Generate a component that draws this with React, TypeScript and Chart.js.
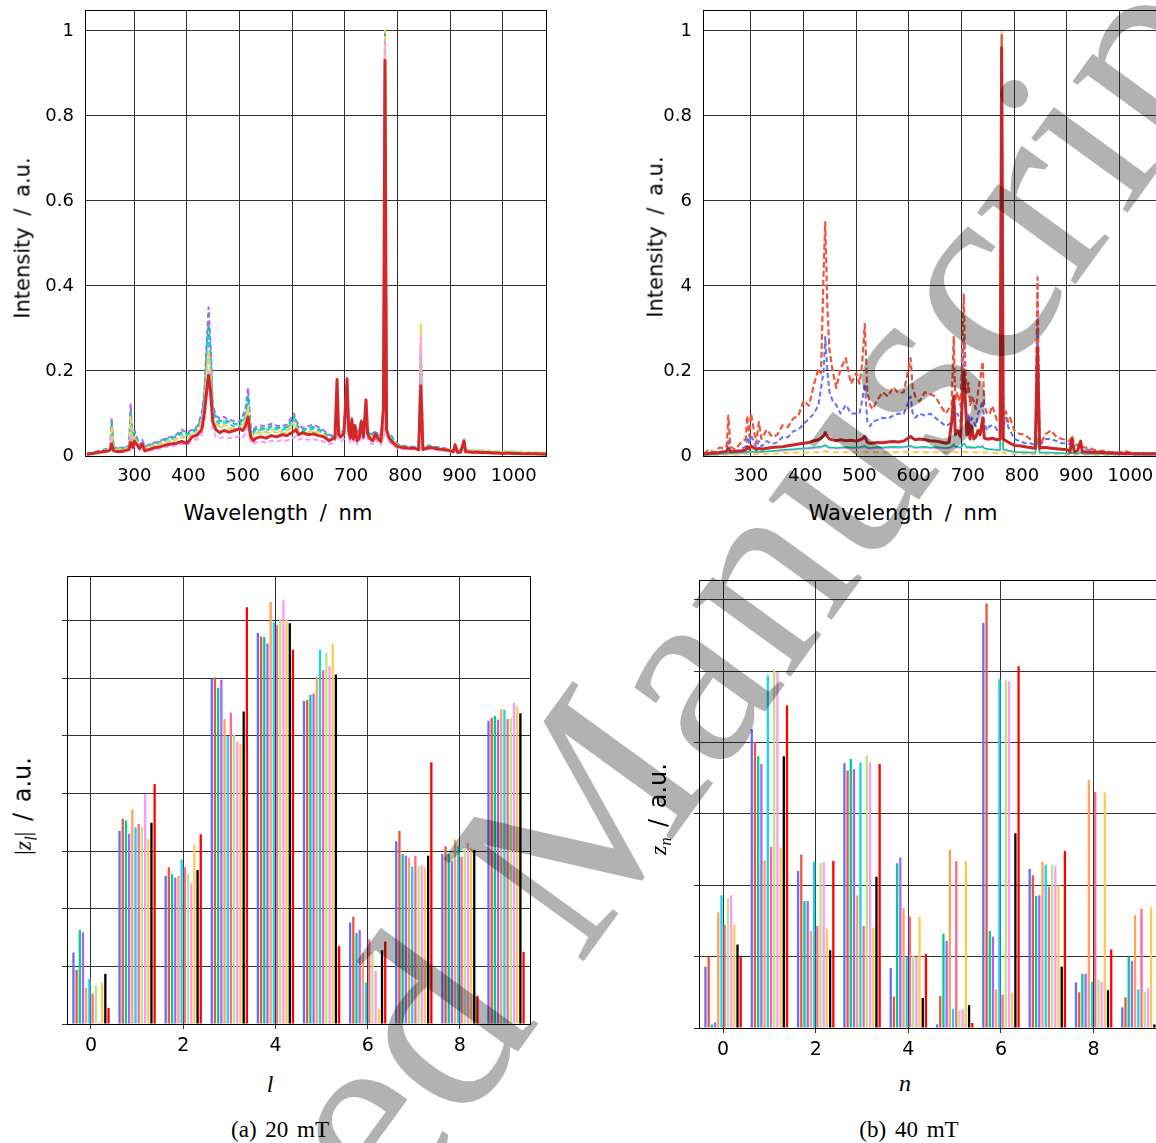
import React, { useEffect, useRef } from 'react';
import { Chart, registerables } from 'chart.js';

Chart.register(...registerables);

// ---------- spectra (wavelength in nm, intensities in 1/1000 a.u.) ----------
const WAVELENGTH = [
  210, 220, 230, 240, 250, 254, 257, 261, 270, 280,
  290, 293, 297, 300, 310, 315, 320, 330, 340, 350,
  360, 370, 380, 390, 400, 410, 420, 428, 433, 438,
  441, 445, 449, 455, 462, 470, 480, 490, 500, 506,
  511, 516, 521, 526, 531, 540, 550, 560, 570, 580,
  590, 603, 607, 612, 620, 630, 640, 650, 660, 670,
  676, 681, 685, 688, 692, 698, 704, 707, 710, 713,
  716, 719, 723, 727, 731, 735, 740, 743, 748, 753,
  758, 763, 768, 773, 776, 779, 784, 788, 792, 800,
  810, 820, 830, 840, 844, 848, 852, 860, 870, 880,
  890, 900, 906, 909, 914, 920, 926, 929, 933, 940,
  950, 960, 970, 980, 990, 1000, 1010, 1020, 1030, 1040,
  1060, 1085,
];

// 20 mT
const S20_RED = [
  4, 6, 8, 10, 12, 14, 28, 12, 10, 12,
  15, 32, 20, 35, 18, 28, 12, 16, 20, 22,
  26, 28, 30, 34, 30, 45, 50, 62, 100, 160,
  190, 150, 80, 62, 55, 60, 56, 60, 64, 60,
  70, 92, 45, 36, 42, 45, 42, 48, 45, 50,
  48, 58, 62, 50, 55, 50, 52, 48, 45, 36,
  40, 42, 180, 50, 45, 52, 180, 60, 42, 85,
  40, 72, 36, 42, 80, 45, 132, 52, 40, 36,
  52, 40, 34, 110, 930, 62, 42, 36, 30, 22,
  20, 18, 19, 15, 165, 15, 17, 20, 18, 16,
  15, 12, 10, 26, 8, 10, 36, 10, 10, 9,
  9, 8, 8, 7, 7, 6, 7, 6, 6, 5,
  5, 4,
];
const S20_PURPLE = [
  5, 8, 11, 14, 18, 20, 90, 22, 18, 20,
  24, 122, 30, 62, 25, 38, 22, 28, 32, 36,
  42, 45, 50, 62, 55, 62, 70, 100, 150, 280,
  350, 260, 120, 95, 88, 92, 85, 82, 80, 95,
  110, 160, 70, 62, 68, 72, 70, 76, 72, 70,
  74, 100, 85, 72, 66, 70, 74, 68, 60, 50,
  48, 52, 70, 62, 60, 65, 190, 75, 62, 90,
  60, 70, 58, 62, 88, 60, 80, 62, 55, 52,
  60, 50, 45, 48, 995, 60, 50, 48, 40, 28,
  24, 22, 22, 20, 240, 20, 22, 25, 22, 20,
  18, 15, 14, 28, 12, 13, 30, 13, 13, 12,
  12, 11, 10, 10, 9, 9, 9, 8, 8, 7,
  7, 6,
];
const S20_GREEN = [
  5, 7, 10, 13, 16, 18, 75, 20, 17, 19,
  22, 100, 28, 55, 24, 34, 21, 26, 30, 34,
  40, 42, 47, 56, 52, 58, 66, 92, 140, 260,
  310, 240, 110, 88, 82, 85, 80, 76, 75, 88,
  100, 140, 65, 58, 62, 66, 64, 70, 67, 65,
  68, 92, 78, 66, 62, 65, 68, 63, 56, 46,
  45, 48, 62, 58, 56, 60, 170, 70, 58, 85,
  56, 66, 54, 58, 84, 56, 76, 58, 52, 50,
  56, 48, 43, 46, 990, 56, 48, 46, 38, 27,
  23, 21, 21, 19, 250, 19, 21, 24, 21, 19,
  17, 15, 14, 26, 12, 13, 28, 13, 13, 12,
  12, 11, 10, 10, 9, 9, 9, 8, 8, 7,
  7, 6,
];
const S20_CYAN = [
  5, 7, 9, 12, 15, 17, 60, 18, 16, 18,
  20, 80, 26, 48, 22, 31, 20, 24, 28, 32,
  37, 39, 44, 52, 48, 54, 62, 85, 130, 230,
  280, 210, 100, 82, 76, 80, 74, 70, 70, 82,
  92, 125, 60, 54, 58, 62, 60, 66, 63, 61,
  64, 86, 72, 62, 58, 61, 64, 59, 52, 43,
  42, 45, 60, 54, 52, 56, 150, 64, 54, 80,
  52, 62, 50, 54, 80, 52, 72, 54, 48, 46,
  52, 45, 40, 43, 985, 52, 45, 43, 36, 26,
  22, 20, 20, 18, 260, 18, 20, 23, 20, 18,
  16, 14, 13, 25, 11, 12, 27, 12, 12, 11,
  11, 10, 10, 9, 9, 8, 8, 8, 7, 7,
  6, 6,
];
const S20_YELLOW = [
  4, 7, 9, 11, 14, 16, 70, 17, 15, 17,
  19, 95, 24, 45, 21, 29, 18, 22, 26, 30,
  34, 36, 41, 48, 45, 50, 58, 80, 120, 210,
  250, 190, 92, 76, 70, 74, 68, 65, 66, 76,
  86, 115, 56, 50, 54, 58, 56, 62, 59, 57,
  60, 80, 68, 58, 55, 57, 60, 56, 50, 41,
  40, 43, 58, 52, 50, 54, 140, 60, 52, 76,
  50, 60, 48, 52, 76, 50, 68, 52, 46, 44,
  50, 43, 38, 41, 1000, 50, 43, 41, 34, 25,
  21, 19, 19, 17, 310, 17, 19, 22, 19, 17,
  15, 14, 12, 24, 11, 12, 26, 11, 11, 10,
  10, 10, 9, 9, 8, 8, 8, 7, 7, 7,
  6, 6,
];
const S20_LPINK = [
  3, 5, 7, 8, 10, 12, 40, 11, 9, 10,
  12, 50, 16, 28, 14, 20, 10, 13, 16, 18,
  21, 23, 25, 28, 26, 36, 40, 50, 80, 150,
  200, 130, 60, 45, 42, 44, 42, 44, 46, 44,
  52, 70, 34, 28, 32, 34, 32, 36, 34, 37,
  36, 44, 46, 38, 42, 38, 40, 36, 34, 28,
  30, 32, 80, 38, 34, 40, 120, 46, 32, 62,
  30, 54, 28, 32, 60, 34, 90, 40, 30, 28,
  40, 30, 26, 50, 970, 46, 32, 28, 24, 18,
  16, 15, 15, 13, 280, 13, 14, 16, 15, 13,
  12, 10, 9, 20, 7, 9, 28, 9, 9, 8,
  8, 7, 7, 6, 6, 5, 6, 5, 5, 5,
  4, 4,
];
const S20_LGREEN = [
  4, 6, 9, 11, 13, 15, 50, 16, 14, 16,
  18, 70, 22, 40, 20, 28, 17, 21, 24, 28,
  32, 34, 38, 44, 42, 48, 55, 75, 110, 200,
  240, 180, 88, 72, 66, 70, 64, 62, 62, 72,
  80, 105, 52, 48, 50, 54, 52, 58, 55, 53,
  56, 74, 62, 54, 52, 54, 56, 52, 47, 38,
  38, 40, 56, 48, 46, 50, 130, 56, 48, 70,
  46, 56, 44, 48, 70, 46, 62, 48, 42, 40,
  46, 40, 36, 38, 960, 46, 40, 38, 32, 24,
  21, 19, 19, 17, 200, 17, 19, 22, 20, 18,
  17, 16, 15, 27, 14, 15, 38, 15, 15, 14,
  14, 14, 13, 13, 12, 12, 12, 11, 11, 10,
  10, 9,
];

// 40 mT
const S40_DARKRED = [
  5, 6, 7, 8, 10, 11, 18, 10, 11, 12,
  14, 22, 16, 24, 15, 18, 16, 18, 20, 21,
  22, 24, 26, 28, 30, 32, 36, 38, 42, 48,
  55, 46, 40, 38, 36, 38, 36, 37, 35, 38,
  40, 46, 32, 30, 30, 32, 31, 33, 34, 33,
  35, 46, 42, 38, 40, 38, 36, 35, 33, 30,
  32, 80, 140, 50, 60, 45, 200, 130, 50, 80,
  40, 70, 40, 45, 60, 50, 90, 42, 40, 40,
  42, 40, 38, 40, 960, 40, 36, 33, 30, 25,
  24, 22, 20, 18, 255, 18, 20, 20, 18, 17,
  16, 15, 10, 40, 10, 12, 35, 10, 10, 9,
  9, 8, 8, 7, 7, 6, 6, 6, 5, 5,
  5, 5,
];
const S40_ORANGERED = [
  5, 15, 8, 20, 18, 25, 95, 22, 15, 30,
  40, 95, 45, 100, 30, 80, 40, 62, 45, 50,
  72, 68, 88, 95, 130, 118, 170, 205, 195, 440,
  550, 350, 250, 200, 160, 205, 230, 170, 195, 170,
  215, 310, 150, 120, 110, 132, 150, 140, 162, 148,
  150, 230, 160, 140, 128, 150, 146, 140, 118, 100,
  112, 122, 280, 130, 150, 118, 380, 200, 150, 172,
  120, 140, 130, 110, 150, 180, 222, 120, 100, 98,
  118, 100, 80, 82, 990, 90, 105, 80, 90, 60,
  52, 50, 40, 35, 420, 30, 35, 52, 60, 45,
  40, 38, 35, 48, 30, 25, 30, 22, 20, 20,
  15, 12, 12, 10, 8, 8, 12, 8, 7, 6,
  6, 5,
];
const S40_BLUE = [
  4, 8, 6, 10, 10, 14, 35, 12, 10, 16,
  22, 45, 28, 50, 20, 35, 22, 35, 28, 32,
  45, 44, 58, 62, 75, 88, 100, 120, 160, 200,
  280, 200, 150, 130, 120, 100, 120, 100, 100, 100,
  130, 170, 80, 70, 80, 85, 90, 88, 95, 100,
  98, 140, 100, 90, 100, 95, 100, 90, 80, 70,
  75, 80, 140, 90, 100, 80, 280, 130, 80, 100,
  70, 90, 80, 70, 100, 110, 130, 80, 60, 70,
  72, 70, 60, 60, 950, 70, 90, 70, 60, 40,
  35, 30, 30, 25, 300, 25, 30, 40, 40, 35,
  30, 30, 28, 35, 22, 20, 22, 18, 16, 15,
  12, 10, 10, 8, 8, 7, 8, 6, 6, 5,
  5, 4,
];
const S40_GREEN = [
  2, 3, 4, 5, 6, 6, 8, 6, 7, 8,
  8, 10, 9, 11, 9, 10, 10, 11, 12, 13,
  14, 15, 16, 17, 18, 19, 20, 22, 22, 24,
  26, 22, 20, 20, 19, 20, 21, 20, 20, 21,
  22, 24, 20, 19, 20, 21, 20, 21, 22, 21,
  22, 24, 22, 20, 21, 22, 20, 21, 20, 19,
  20, 22, 28, 22, 22, 20, 30, 26, 20, 22,
  20, 21, 20, 20, 22, 20, 22, 18, 17, 16,
  16, 15, 14, 14, 990, 15, 14, 13, 12, 10,
  9, 9, 8, 8, 40, 8, 8, 8, 8, 7,
  7, 6, 6, 8, 6, 6, 8, 6, 6, 5,
  5, 5, 5, 4, 4, 4, 4, 4, 3, 3,
  3, 3,
];
const S40_LPINK = [
  2, 3, 3, 4, 5, 5, 7, 5, 6, 6,
  7, 9, 8, 10, 8, 9, 9, 10, 11, 12,
  12, 13, 14, 15, 16, 17, 18, 19, 20, 22,
  24, 20, 18, 18, 17, 18, 19, 18, 18, 19,
  20, 22, 18, 17, 18, 19, 18, 19, 20, 19,
  20, 22, 20, 18, 19, 20, 18, 19, 18, 17,
  18, 20, 25, 20, 20, 18, 28, 24, 18, 20,
  18, 19, 18, 19, 24, 20, 26, 18, 16, 15,
  15, 14, 13, 13, 990, 14, 13, 12, 11, 9,
  8, 8, 7, 7, 380, 7, 7, 7, 7, 6,
  6, 5, 5, 7, 5, 5, 7, 5, 5, 4,
  4, 4, 4, 4, 3, 3, 3, 3, 3, 3,
  2, 2,
];
const S40_YELLOW = [
  1, 2, 2, 3, 3, 3, 4, 3, 3, 4,
  4, 5, 4, 5, 4, 5, 5, 5, 6, 6,
  7, 7, 7, 8, 8, 8, 9, 9, 10, 10,
  11, 10, 9, 9, 9, 9, 9, 9, 9, 9,
  10, 10, 9, 9, 9, 9, 9, 9, 9, 9,
  9, 10, 9, 9, 9, 9, 9, 9, 9, 8,
  8, 9, 10, 9, 9, 9, 10, 10, 9, 9,
  9, 9, 9, 9, 9, 9, 10, 8, 8, 8,
  8, 7, 7, 7, 1000, 7, 7, 6, 6, 5,
  5, 5, 4, 4, 300, 4, 4, 4, 4, 4,
  3, 3, 3, 4, 3, 3, 4, 3, 3, 3,
  3, 2, 2, 2, 2, 2, 2, 2, 2, 2,
  2, 2,
];

// ---------- mode amplitudes (bars) ----------
const MODE_INDEX = [0, 1, 2, 3, 4, 5, 6, 7, 8, 9];
const BAR_COLORS = [
  '#636EFA', '#EF553B', '#00CC96', '#AB63FA', '#FFA15A', '#19D3F3',
  '#FF6692', '#B6E880', '#FF97FF', '#FECB52', '#000000', '#FF0000',
];
// |z_l| at 20 mT, one row per measurement series
const Z20 = [
  [1.24, 3.35, 2.57, 5.99, 6.78, 5.60, 1.76, 3.17, 2.95, 5.26],
  [0.94, 3.56, 2.72, 6.01, 6.72, 5.62, 1.86, 3.35, 3.08, 5.31],
  [1.63, 3.53, 2.60, 5.83, 6.71, 5.71, 1.58, 2.95, 2.95, 5.34],
  [1.59, 3.30, 2.54, 5.97, 6.60, 5.73, 1.63, 2.92, 2.83, 5.28],
  [0.63, 3.72, 2.57, 5.29, 7.32, 6.02, 1.23, 2.88, 3.20, 5.46],
  [0.78, 3.41, 2.85, 5.00, 6.97, 6.49, 0.72, 2.73, 3.08, 5.45],
  [0.53, 3.47, 2.72, 5.40, 6.92, 6.14, 1.47, 2.92, 2.90, 5.29],
  [0.67, 3.42, 2.61, 5.02, 7.03, 6.44, 1.24, 2.73, 3.07, 5.30],
  [0.03, 3.99, 2.44, 4.90, 7.36, 6.21, 0.92, 2.75, 3.14, 5.57],
  [0.72, 3.21, 3.11, 4.86, 7.01, 6.59, 0.26, 2.72, 3.06, 5.50],
  [0.87, 3.49, 2.67, 5.42, 6.95, 6.06, 1.28, 2.92, 3.02, 5.39],
  [0.28, 4.16, 3.29, 7.23, 6.49, 1.35, 1.43, 4.54, 0.49, 1.25],
];
// z_n at 40 mT
const Z40 = [
  [0.86, 4.19, 2.20, 3.71, 0.84, 0.05, 5.68, 2.23, 0.64, 0.29],
  [1.00, 4.01, 2.43, 3.61, 0.44, 0.45, 5.95, 2.14, 0.50, 0.43],
  [0.05, 3.81, 1.78, 3.77, 2.31, 1.32, 1.36, 1.85, 0.76, 1.00],
  [0.08, 3.70, 1.78, 3.63, 2.39, 1.22, 1.28, 1.86, 0.76, 0.94],
  [1.62, 2.35, 1.36, 1.86, 1.68, 2.50, 0.54, 2.33, 3.48, 1.58],
  [1.86, 4.94, 2.33, 3.72, 1.00, 0.27, 4.89, 2.29, 0.65, 0.54],
  [1.45, 2.54, 1.43, 1.43, 1.56, 2.34, 0.47, 1.98, 3.31, 1.67],
  [1.82, 5.03, 2.31, 3.82, 1.02, 0.25, 4.87, 2.29, 0.68, 0.51],
  [1.86, 4.99, 2.33, 3.72, 1.00, 0.26, 4.86, 2.27, 0.65, 0.56],
  [1.45, 2.53, 1.39, 1.41, 1.56, 2.34, 0.49, 2.00, 3.30, 1.69],
  [1.17, 3.81, 1.09, 2.12, 0.42, 0.32, 2.73, 0.86, 0.53, 0.05],
  [1.00, 4.52, 2.34, 3.70, 1.04, 0.07, 5.07, 2.48, 1.10, 0.17],
];

const Y_LABELS_20: Record<string, string> = { '0': '0', '0.2': '0.2', '0.4': '0.4', '0.6': '0.6', '0.8': '0.8', '1': '1' };
const Y_LABELS_40: Record<string, string> = { '0': '0', '0.2': '0.2', '0.4': '4', '0.6': '6', '0.8': '0.8', '1': '1' };

const SANS = '"DejaVu Sans", sans-serif';
const SERIF = '"Liberation Serif", "DejaVu Serif", serif';
const GRID = '#333333';

const framePlugin = {
  id: 'frame',
  afterDatasetsDraw(chart: any) {
    const { ctx, chartArea: a } = chart;
    ctx.save();
    ctx.strokeStyle = '#000';
    ctx.lineWidth = 1;
    ctx.strokeRect(Math.round(a.left) + 0.5, Math.round(a.top) + 0.5, Math.round(a.right - a.left), Math.round(a.bottom - a.top));
    ctx.restore();
  },
};

const noPad = (s: any) => { s.paddingTop = 0; s.paddingBottom = 0; s.paddingLeft = 0; s.paddingRight = 0; };

const pts = (ys: number[]) => WAVELENGTH.map((x, i) => ({ x, y: ys[i] / 1000 }));

function line(ys: number[], color: string, width: number, dash: number[] = []) {
  return {
    data: pts(ys), borderColor: color, borderWidth: width, borderDash: dash,
    pointRadius: 0, tension: 0, fill: false, xAxisID: 'x', yAxisID: 'y',
    borderJoinStyle: 'round', borderCapStyle: 'butt',
  };
}

function spectrumChart(canvas: HTMLCanvasElement, datasets: any[], o: any) {
  return new Chart(canvas, {
    type: 'line',
    data: { datasets },
    options: {
      animation: false, responsive: false, events: [],
      layout: { padding: { top: 10, right: o.padRight, left: 0, bottom: 0 } },
      plugins: { legend: { display: false }, tooltip: { enabled: false } },
      scales: {
        x: {
          type: 'linear', position: 'bottom', min: o.gridMin, max: o.gridMax,
          afterFit: (s: any) => { s.height = 0; noPad(s); },
          ticks: { display: false, stepSize: 100, includeBounds: false },
          grid: { color: GRID, lineWidth: 1, drawTicks: false },
          border: { display: false },
        },
        xl: {
          type: 'linear', position: 'bottom', min: o.labMin, max: o.labMax,
          afterFit: (s: any) => { s.height = 44; noPad(s); },
          ticks: {
            stepSize: 100, includeBounds: false, autoSkip: false, maxRotation: 0, padding: 10,
            color: '#000', font: { family: SANS, size: 18 }, callback: (v: any) => String(v),
          },
          grid: { display: false, drawTicks: false },
          border: { display: false },
        },
        y: {
          type: 'linear', min: 0, max: 1.049,
          afterFit: (s: any) => { s.width = 56; noPad(s); },
          ticks: {
            stepSize: 0.2, includeBounds: false, autoSkip: false, padding: 11,
            color: '#000', font: { family: SANS, size: 18 },
            callback: (v: any) => o.yLabels[String(Math.round(Number(v) * 10) / 10)] ?? '',
          },
          grid: { color: GRID, lineWidth: 1, drawTicks: false },
          border: { display: false },
        },
      },
    } as any,
    plugins: [framePlugin],
  });
}

function barChart(canvas: HTMLCanvasElement, rows: number[][], o: any) {
  const datasets = rows.map((r, s) => ({
    data: MODE_INDEX.map((n, j) => ({ x: n, y: r[j] })),
    backgroundColor: BAR_COLORS[s], borderWidth: 0,
    categoryPercentage: 0.83, barPercentage: 0.72,
  }));
  const evenColor = (c: any) => (c.tick && Math.round(c.tick.value) % 2 === 0 ? GRID : 'rgba(0,0,0,0)');
  return new Chart(canvas, {
    type: 'bar',
    data: { datasets },
    options: {
      animation: false, responsive: false, events: [],
      layout: { padding: { top: o.padTop, right: o.padRight, left: 0, bottom: 0 } },
      plugins: { legend: { display: false }, tooltip: { enabled: false } },
      scales: {
        x: {
          type: 'linear', min: -0.52, max: 9.52, offset: false,
          afterFit: (s: any) => { s.height = o.xHeight; noPad(s); },
          ticks: {
            stepSize: 1, includeBounds: false, autoSkip: false, maxRotation: 0, padding: 6,
            color: '#000', font: { family: SANS, size: 19 },
            callback: (v: any) => (Math.round(Number(v)) % 2 === 0 ? String(v) : ''),
          },
          grid: { offset: false, color: evenColor, tickColor: evenColor, tickLength: 5, drawTicks: true },
          border: { display: false },
        },
        y: {
          type: 'linear', min: 0, max: o.yMax,
          afterFit: (s: any) => { s.width = o.yWidth; noPad(s); },
          ticks: { stepSize: 1, includeBounds: false, padding: 0, callback: () => '' },
          grid: { color: GRID, tickColor: GRID, tickLength: 5, drawTicks: true },
          border: { display: false },
        },
      },
    } as any,
    plugins: [framePlugin],
  });
}

const abs = (x: number, y: number, extra: any = {}) => ({
  position: 'absolute' as const, left: x, top: y, transform: 'translate(-50%,-50%)',
  whiteSpace: 'nowrap' as const, color: '#000', lineHeight: 1, ...extra,
});
const rot = (x: number, y: number, extra: any = {}) => abs(x, y, { transform: 'translate(-50%,-50%) rotate(-90deg)', ...extra });

export default function App() {
  const tl = useRef<HTMLCanvasElement>(null);
  const tr = useRef<HTMLCanvasElement>(null);
  const bl = useRef<HTMLCanvasElement>(null);
  const br = useRef<HTMLCanvasElement>(null);

  useEffect(() => {
    const charts = [
      spectrumChart(tl.current!, [
        line(S20_RED, '#d62728', 3),
        line(S20_LPINK, '#ff97ff', 2, [5, 3]),
        line(S20_YELLOW, '#fecb52', 2, [5, 3]),
        line(S20_LGREEN, '#b6e880', 2, [5, 3]),
        line(S20_CYAN, '#19d3f3', 2, [5, 3]),
        line(S20_GREEN, '#00cc96', 2, [5, 3]),
        line(S20_PURPLE, '#ab63fa', 2, [5, 3]),
      ], { gridMin: 206.4, gridMax: 1081.7, labMin: 209.0, labMax: 1059.6, padRight: 15, yLabels: Y_LABELS_20 }),
      spectrumChart(tr.current!, [
        line(S40_DARKRED, '#c62828', 3),
        line(S40_ORANGERED, '#ef553b', 2.2, [6, 3]),
        line(S40_BLUE, '#636efa', 2, [5, 3]),
        line(S40_GREEN, '#00cc96', 1.5),
        line(S40_LPINK, '#ff97ff', 1.5),
        line(S40_YELLOW, '#fecb52', 2, [6, 4]),
      ], { gridMin: 208.9, gridMax: 1084.2, labMin: 211.4, labMax: 1062.0, padRight: 15, yLabels: Y_LABELS_40 }),
      barChart(bl.current!, Z20, { padTop: 16, padRight: 20, xHeight: 36, yWidth: 57, yMax: 7.77 }),
      barChart(br.current!, Z40, { padTop: 20, padRight: 16, xHeight: 32, yWidth: 59, yMax: 6.28 }),
    ];
    return () => charts.forEach((c) => c.destroy());
  }, []);

  const axisSans = { fontFamily: SANS, fontSize: 21, wordSpacing: 5 };
  const capSerif = { fontFamily: SERIF, fontSize: 23, wordSpacing: 3 };
  const mathLabel = { fontFamily: SANS, fontSize: 24, wordSpacing: 3 };

  return (
    <div style={{ position: 'fixed', left: 0, top: 0, width: 1156, height: 1143, overflow: 'hidden', background: '#fff' }}>
      <canvas ref={tl} width={532} height={500} style={{ position: 'absolute', left: 29, top: 0 }} />
      <canvas ref={tr} width={532} height={500} style={{ position: 'absolute', left: 647, top: 0 }} />
      <canvas ref={bl} width={540} height={500} style={{ position: 'absolute', left: 10, top: 560 }} />
      <canvas ref={br} width={540} height={500} style={{ position: 'absolute', left: 640, top: 560 }} />

      <div style={rot(23, 238, axisSans)}>Intensity / a.u.</div>
      <div style={abs(278, 513, axisSans)}>Wavelength / nm</div>
      <div style={rot(656, 237, axisSans)}>Intensity / a.u.</div>
      <div style={abs(903, 513, axisSans)}>Wavelength / nm</div>

      <div style={rot(25, 806, mathLabel)}>
        <span style={{ fontFamily: SERIF }}>|</span>
        <span style={{ fontFamily: SERIF, fontStyle: 'italic' }}>z</span>
        <sub style={{ fontFamily: SERIF, fontStyle: 'italic', fontSize: 16 }}>l</sub>
        <span style={{ fontFamily: SERIF }}>|</span> / a.u.
      </div>
      <div style={rot(660, 809, mathLabel)}>
        <span style={{ fontFamily: SERIF, fontStyle: 'italic' }}>z</span>
        <sub style={{ fontFamily: SERIF, fontStyle: 'italic', fontSize: 16 }}>n</sub> / a.u.
      </div>

      <div style={abs(270, 1084, { fontFamily: SERIF, fontStyle: 'italic', fontSize: 24 })}>l</div>
      <div style={abs(905, 1083, { fontFamily: SERIF, fontStyle: 'italic', fontSize: 24 })}>n</div>

      <div style={abs(280, 1129, capSerif)}>(a) 20 mT</div>
      <div style={abs(909, 1129, capSerif)}>(b) 40 mT</div>

      <div
        style={{
          position: 'absolute', left: 548, top: 858,
          transform: 'translate(-50%,-50%) rotate(-54deg)',
          fontFamily: SERIF, fontSize: 265, lineHeight: 1, whiteSpace: 'nowrap',
          color: 'rgba(0,0,0,0.3)', pointerEvents: 'none',
        }}
      >
        Accepted Manuscript
      </div>
    </div>
  );
}
